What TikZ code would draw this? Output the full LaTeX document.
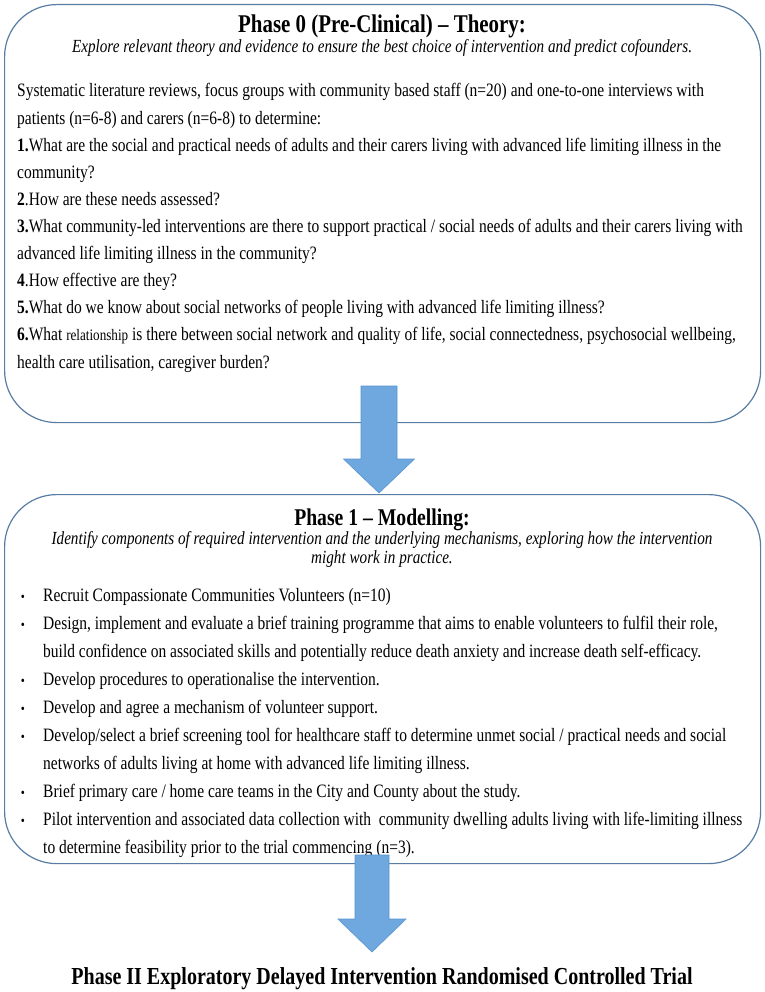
\documentclass[tikz,border=0pt]{standalone}
\usepackage{fontspec}
\setmainfont{Liberation Serif}[FakeStretch=0.82]
\usetikzlibrary{calc}
\definecolor{boxline}{RGB}{88,125,165}
\definecolor{arrowfill}{RGB}{110,168,222}
\definecolor{arrowline}{RGB}{90,148,208}
\begin{document}
\begin{tikzpicture}[x=1pt,y=-1pt,
  phasebox/.style={draw=boxline,line width=1.2pt,rounded corners=52pt,minimum width=756pt,inner sep=0pt,anchor=north west},
  blockarrow/.style={fill=arrowfill,draw=arrowline,line width=0.6pt},
  titletext/.style={font=\fontsize{24}{28}\selectfont\bfseries,anchor=base,inner sep=0pt},
  subtext/.style={font=\fontsize{18.5}{21}\selectfont\itshape,anchor=base,inner sep=0pt},
  bodytext/.style={font=\fontsize{18.9}{22}\selectfont,anchor=base west,inner sep=0pt},
  bulletmark/.style={font=\fontsize{14}{16}\selectfont,anchor=base,inner sep=0pt}]
\useasboundingbox (0,0) rectangle (764,992);
\fill[white] (0,0) rectangle (764,992);

% boxes
\node[phasebox,minimum height=418pt] (box0) at (4,4) {};
\node[phasebox,minimum height=369pt] (box1) at (4,494) {};

% box 0 text
\node[titletext,font=\fontsize{25.5}{30}\selectfont\bfseries] (t0) at (382,32.5) {Phase 0 (Pre-Clinical) – Theory:};
\node[subtext] (s0) at (382,53) {Explore relevant theory and evidence to ensure the best choice of intervention and predict cofounders.};
\node[bodytext] (p1) at (17,97) {Systematic literature reviews, focus groups with community based staff (n=20) and one-to-one interviews with};
\node[bodytext] (p2) at (17,124.1) {patients (n=6-8) and carers (n=6-8) to determine:};
\node[bodytext] (p3) at (17,151.2) {\textbf{1.}What are the social and practical needs of adults and their carers living with advanced life limiting illness in the};
\node[bodytext] (p4) at (17,178.3) {community?};
\node[bodytext] (p5) at (17,205.4) {\textbf{2}.How are these needs assessed?};
\node[bodytext] (p6) at (17,232.5) {\textbf{3.}What community-led interventions are there to support practical / social needs of adults and their carers living with};
\node[bodytext] (p7) at (17,259.6) {advanced life limiting illness in the community?};
\node[bodytext] (p8) at (17,286.7) {\textbf{4}.How effective are they?};
\node[bodytext] (p9) at (17,313.8) {\textbf{5.}What do we know about social networks of people living with advanced life limiting illness?};
\node[bodytext] (p10) at (17,340.9) {\textbf{6.}What {\fontsize{16}{18}\selectfont relationship} is there between social network and quality of life, social connectedness, psychosocial wellbeing,};
\node[bodytext] (p11) at (17,368) {health care utilisation, caregiver burden?};

% box 1 text
\node[titletext] (t1) at (382,525) {Phase 1 – Modelling:};
\node[subtext] (s1a) at (382,544) {Identify components of required intervention and the underlying mechanisms, exploring how the intervention};
\node[subtext] (s1b) at (382,563) {might work in practice.};

\node[bulletmark] (m1) at (23,601) {•};
\node[bodytext] (q1) at (43,601) {Recruit Compassionate Communities Volunteers (n=10)};
\node[bulletmark] (m2) at (23,629) {•};
\node[bodytext] (q2) at (43,629) {Design, implement and evaluate a brief training programme that aims to enable volunteers to fulfil their role,};
\node[bodytext] (q3) at (43,657) {build confidence on associated skills and potentially reduce death anxiety and increase death self-efficacy.};
\node[bulletmark] (m3) at (23,685) {•};
\node[bodytext] (q4) at (43,685) {Develop procedures to operationalise the intervention.};
\node[bulletmark] (m4) at (23,713) {•};
\node[bodytext] (q5) at (43,713) {Develop and agree a mechanism of volunteer support.};
\node[bulletmark] (m5) at (23,741) {•};
\node[bodytext] (q6) at (43,741) {Develop/select a brief screening tool for healthcare staff to determine unmet social / practical needs and social};
\node[bodytext] (q7) at (43,769) {networks of adults living at home with advanced life limiting illness.};
\node[bulletmark] (m6) at (23,797) {•};
\node[bodytext] (q8) at (43,797) {Brief primary care / home care teams in the City and County about the study.};
\node[bulletmark] (m7) at (23,825) {•};
\node[bodytext] (q9) at (43,825) {Pilot intervention and associated data collection with\ \ community dwelling adults living with life-limiting illness};
\node[bodytext] (q10) at (43,853) {to determine feasibility prior to the trial commencing (n=3).};

% final title
\node[titletext,font=\fontsize{24.4}{28}\selectfont\bfseries] (t2) at (382,984) {Phase II Exploratory Delayed Intervention Randomised Controlled Trial};

% arrows
\coordinate (a1top) at (379,386);
\coordinate (a1tip) at (379,493);
\draw[blockarrow] ($(a1top)+(-18,0)$) -- ($(a1top)+(18,0)$) -- ($(a1tip)+(18,-34)$) -- ($(a1tip)+(35.5,-34)$)
  -- (a1tip) -- ($(a1tip)+(-35.5,-34)$) -- ($(a1tip)+(-18,-34)$) -- cycle;
\coordinate (a2top) at (372,855);
\coordinate (a2tip) at (372,952);
\draw[blockarrow] ($(a2top)+(-17,0)$) -- ($(a2top)+(17,0)$) -- ($(a2tip)+(17,-33)$) -- ($(a2tip)+(34,-33)$)
  -- (a2tip) -- ($(a2tip)+(-34,-33)$) -- ($(a2tip)+(-17,-33)$) -- cycle;
\end{tikzpicture}
\end{document}
